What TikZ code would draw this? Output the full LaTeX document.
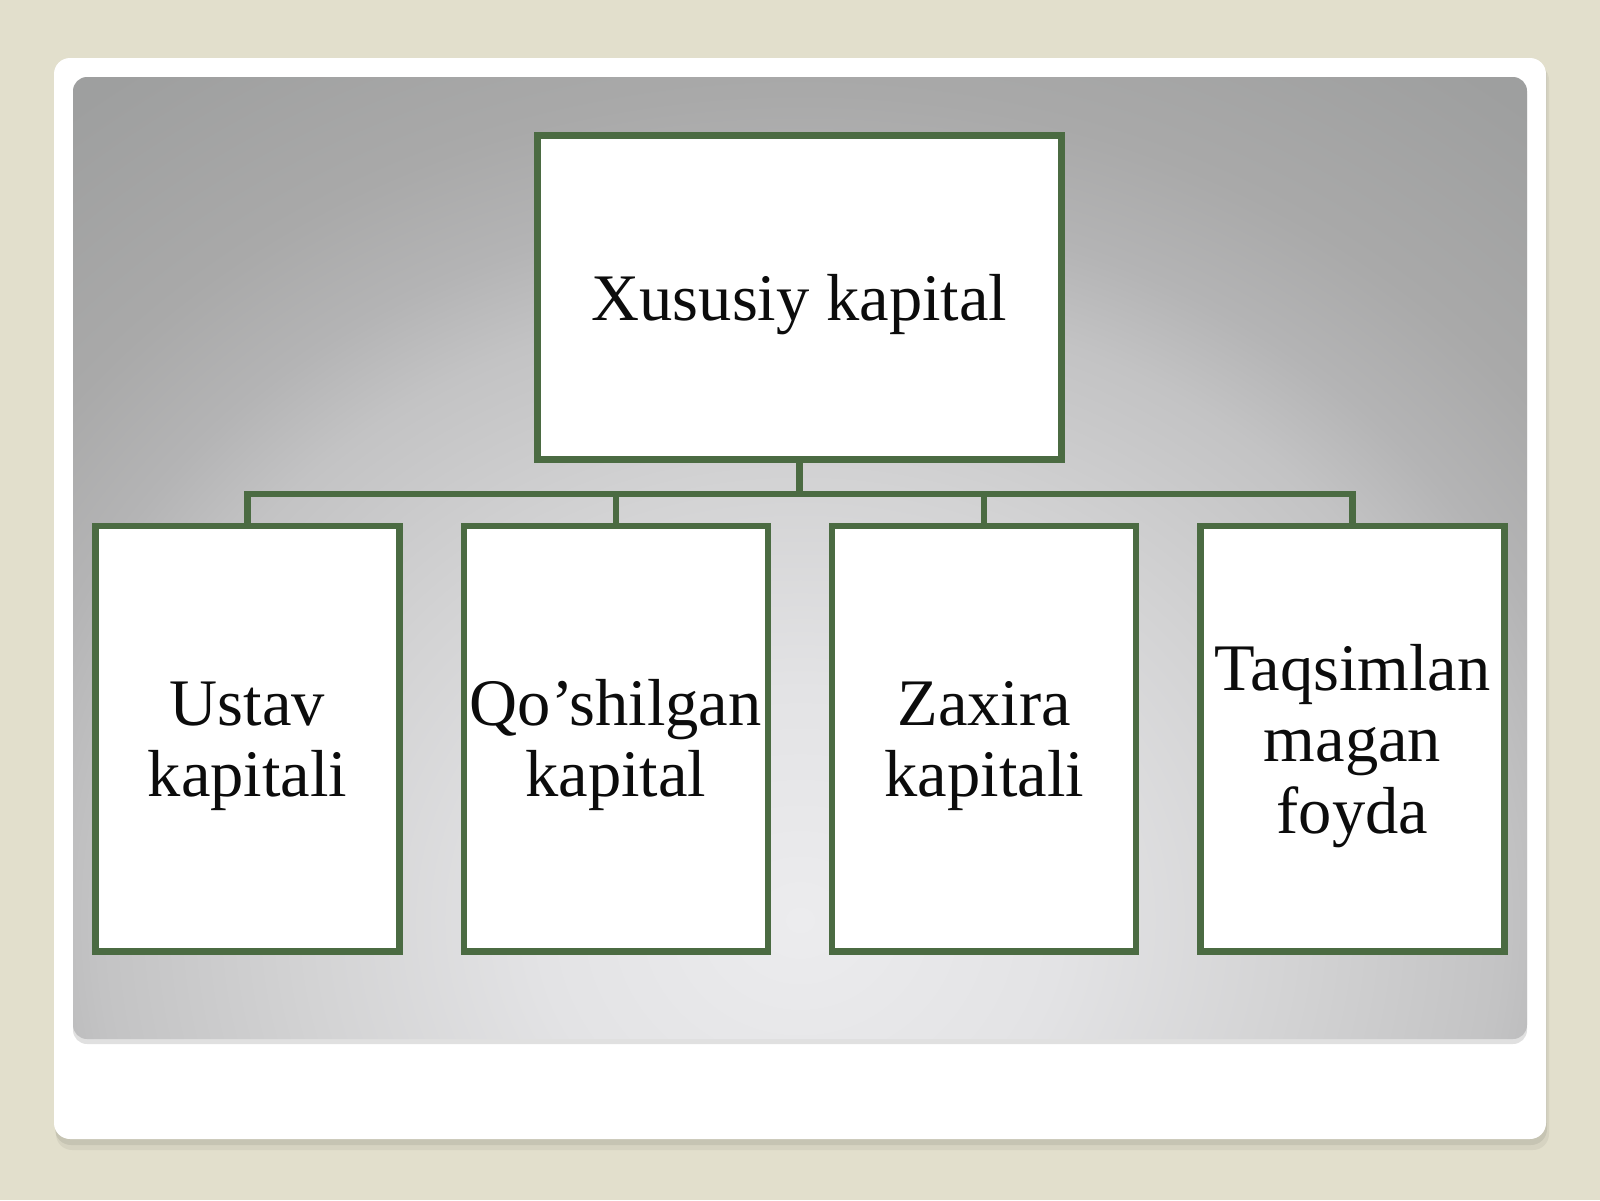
\documentclass[tikz,border=0pt]{standalone}
\usepackage{fontspec}
\setmainfont{Liberation Serif}
\definecolor{bgbeige}{HTML}{E2DFCC}
\definecolor{boxgreen}{HTML}{4B6B42}
\definecolor{inktext}{HTML}{0C0C0C}
\definecolor{glowA}{HTML}{ECECEE}
\definecolor{glowB}{HTML}{E3E3E5}
\definecolor{glowC}{HTML}{D3D3D4}
\definecolor{glowD}{HTML}{C3C3C4}
\definecolor{glowE}{HTML}{B4B4B5}
\definecolor{glowF}{HTML}{A9A9A9}
\definecolor{glowG}{HTML}{9E9F9F}
\pgfdeclareradialshading{panelglow}{\pgfpointorigin}{color(0bp)=(glowA); color(5bp)=(glowB); color(9.5bp)=(glowC); color(13.5bp)=(glowD); color(15.5bp)=(glowE); color(18bp)=(glowF); color(22.5bp)=(glowG); color(50bp)=(glowG)}
\begin{document}
\begin{tikzpicture}[x=1pt,y=-1pt,
  box/.style={draw=boxgreen, line width=6.5pt, fill=white, inner sep=0pt, outer sep=0pt},
  topbox/.style={box, minimum width=524pt, minimum height=324pt},
  leafbox/.style={box, minimum width=304pt, minimum height=425.5pt},
  link/.style={draw=boxgreen, line width=6.5pt},
  lbl/.style={text=inktext, inner sep=0pt, anchor=base, align=center},
  bigfont/.style={font=\fontsize{66.5}{72}\selectfont},
  leaffont/.style={font=\fontsize{66.5}{71.5}\selectfont}]
\useasboundingbox (0,0) rectangle (1600,1200);
\fill[bgbeige] (0,0) rectangle (1600,1200);
% white frame with soft shadow
\fill[black, opacity=0.05, rounded corners=16pt] (56,64) rectangle (1549,1150);
\fill[black, opacity=0.07, rounded corners=16pt] (55,61) rectangle (1547,1145);
\fill[white, rounded corners=16pt] (54,58) rectangle (1546,1139);
% grey panel
\fill[black, opacity=0.12, rounded corners=14pt] (73,80) rectangle (1527,1044);
\begin{scope}
  \clip[rounded corners=14pt] (73,77) rectangle (1527,1039);
  \shade[shading=panelglow] (800,920) ellipse [x radius=1300, y radius=1150];
\end{scope}
% boxes
\node[topbox] (top) at (799.5,297.5) {};
\node[leafbox] (b1) at (247.5,738.75) {};
\node[leafbox] (b2) at (615.8,738.75) {};
\node[leafbox] (b3) at (984.2,738.75) {};
\node[leafbox] (b4) at (1352.5,738.75) {};
% connectors
\coordinate (bus) at (799.5,494);
\draw[link] (top.south) -- (bus);
\draw[link] (b1.north) -- (b1.north |- bus) -- (b4.north |- bus) -- (b4.north);
\draw[link] (b2.north) -- (b2.north |- bus);
\draw[link] (b3.north) -- (b3.north |- bus);
% texts (base anchor = baseline of the last line)
\node[lbl, bigfont] (t0) at (799.5,320) {Xususiy kapital};
\node[lbl, leaffont] (t1) at (247.5,796.5) {Ustav\\kapitali};
\node[lbl, leaffont] (t2) at (615.8,796.5) {Qo’shilgan\\kapital};
\node[lbl, leaffont] (t3) at (984.2,796.5) {Zaxira\\kapitali};
\node[lbl, leaffont] (t4) at (1352.5,833) {Taqsimlan\\magan\\foyda};
\end{tikzpicture}
\end{document}
